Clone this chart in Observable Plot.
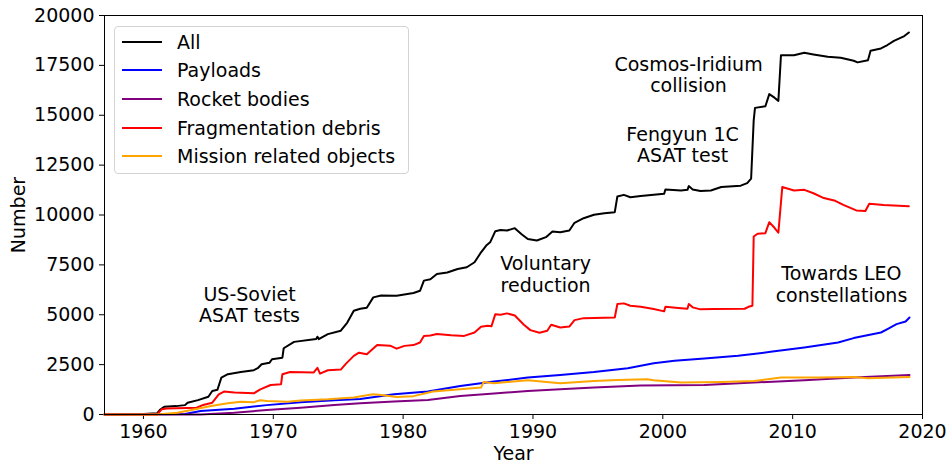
<!DOCTYPE html>
<html>
<head>
<meta charset="utf-8">
<script src="https://cdn.jsdelivr.net/npm/d3@7"></script>
<script src="https://cdn.jsdelivr.net/npm/@observablehq/plot@0.6"></script>
<style>
body { margin: 0; background: #fff; }
#chart { position: relative; width: 948px; height: 464px; font-family: "DejaVu Sans", sans-serif; }
.legend { position: absolute; left: 114px; top: 26px; width: 295px; height: 148px; border: 1px solid #d4d4d4; border-radius: 4px; background: rgba(255,255,255,0.8); box-sizing: border-box; }
.sw { position: absolute; left: 7px; width: 40px; height: 2px; }
.lt { position: absolute; left: 62px; height: 24px; line-height: 24px; font-size: 19px; color: #000; white-space: nowrap; }
</style>
</head>
<body>
<div id="chart"></div>
<script>
const xTicks = [1960, 1970, 1980, 1990, 2000, 2010, 2020];
const yTicks = [0, 2500, 5000, 7500, 10000, 12500, 15000, 17500, 20000];
const seriesNames = ["All", "Payloads", "Rocket bodies", "Fragmentation debris", "Mission related objects"];
const seriesColors = ["black", "blue", "purple", "red", "orange"];

const allYear = [1957.0, 1960.0, 1961.05, 1961.3, 1961.6, 1962.5, 1963.2, 1963.4, 1964.2, 1965.0, 1965.3, 1965.7, 1966.0, 1966.5, 1967.5, 1968.5, 1968.8, 1969.1, 1969.7, 1969.9, 1970.7, 1970.8, 1971.6, 1973.3, 1973.4, 1973.5, 1974.2, 1975.2, 1975.7, 1976.2, 1976.7, 1977.2, 1977.7, 1978.3, 1979.5, 1980.8, 1981.3, 1981.6, 1982.1, 1982.6, 1983.4, 1984.2, 1984.9, 1985.5, 1986.0, 1986.4, 1986.7, 1987.1, 1987.5, 1988.0, 1988.6, 1989.1, 1989.6, 1990.3, 1991.0, 1991.5, 1992.1, 1992.8, 1993.2, 1993.9, 1994.7, 1995.5, 1996.3, 1996.5, 1997.0, 1997.5, 1998.3, 2000.1, 2000.2, 2001.4, 2001.9, 2002.0, 2002.3, 2002.9, 2003.7, 2004.5, 2006.0, 2006.5, 2006.8, 2007.0, 2007.1, 2007.9, 2008.2, 2008.6, 2008.9, 2009.1, 2010.1, 2010.9, 2011.6, 2012.7, 2013.7, 2014.7, 2015.0, 2015.8, 2016.0, 2016.8, 2017.3, 2017.8, 2018.6, 2018.95];
const allCount = [0, 30, 60, 250, 390, 420, 470, 590, 720, 890, 1180, 1240, 1850, 2020, 2130, 2220, 2320, 2520, 2590, 2770, 2850, 3320, 3640, 3780, 3900, 3780, 4030, 4200, 4610, 5200, 5300, 5350, 5870, 5960, 5950, 6090, 6200, 6710, 6780, 7040, 7120, 7290, 7380, 7630, 8130, 8470, 8630, 9190, 9250, 9220, 9340, 9050, 8800, 8720, 8890, 9170, 9140, 9220, 9610, 9840, 10010, 10090, 10140, 10930, 11010, 10890, 10950, 11060, 11280, 11230, 11260, 11450, 11280, 11200, 11230, 11400, 11470, 11600, 11820, 14750, 15370, 15450, 16060, 15880, 15720, 18010, 18010, 18130, 18050, 17930, 17880, 17730, 17650, 17760, 18230, 18350, 18520, 18730, 18970, 19150];

const payloadYear = [1957.0, 1963.2, 1964.4, 1967.0, 1969.5, 1972.1, 1974.7, 1976.7, 1979.3, 1981.9, 1984.4, 1987.0, 1989.6, 1992.1, 1994.7, 1997.3, 1998.3, 1999.3, 2000.9, 2003.2, 2005.8, 2008.3, 2010.9, 2013.5, 2014.7, 2016.8, 2017.3, 2018.0, 2018.7, 2019.0];
const payloadCount = [0, 20, 175, 290, 470, 620, 720, 780, 1010, 1150, 1430, 1650, 1850, 1980, 2130, 2320, 2440, 2570, 2690, 2810, 2940, 3140, 3360, 3610, 3830, 4110, 4280, 4530, 4660, 4860];

const rocketYear = [1957.0, 1964.4, 1967.0, 1969.5, 1972.1, 1974.7, 1976.7, 1979.3, 1981.9, 1984.4, 1987.0, 1989.6, 1992.1, 1994.7, 1998.3, 2003.2, 2007.0, 2010.9, 2014.7, 2019.0];
const rocketCount = [0, 0, 90, 225, 340, 480, 560, 650, 730, 930, 1050, 1180, 1260, 1350, 1450, 1480, 1600, 1720, 1850, 1980];

const fragYear = [1957.0, 1961.05, 1961.4, 1961.8, 1964.1, 1964.6, 1965.3, 1965.8, 1966.2, 1967.0, 1968.5, 1969.0, 1969.8, 1970.6, 1970.7, 1971.3, 1973.1, 1973.4, 1973.6, 1974.2, 1975.2, 1975.6, 1976.2, 1976.6, 1977.2, 1978.0, 1979.0, 1979.5, 1980.1, 1980.8, 1981.3, 1981.6, 1982.1, 1982.6, 1983.7, 1984.7, 1985.5, 1986.0, 1986.5, 1986.8, 1987.1, 1987.5, 1988.0, 1988.6, 1989.3, 1989.8, 1990.5, 1991.1, 1991.4, 1992.1, 1992.8, 1993.2, 1993.9, 1996.3, 1996.5, 1997.0, 1997.5, 1998.3, 1999.3, 2000.1, 2000.2, 2001.4, 2001.9, 2002.0, 2002.3, 2002.9, 2003.9, 2006.3, 2006.6, 2006.9, 2007.0, 2007.3, 2007.9, 2008.2, 2008.6, 2008.9, 2009.2, 2010.1, 2010.9, 2011.6, 2012.4, 2013.2, 2013.9, 2014.9, 2015.6, 2015.9, 2017.0, 2018.95];
const fragCount = [0, 0, 260, 300, 340, 480, 590, 1010, 1150, 1100, 1060, 1260, 1480, 1520, 2020, 2130, 2100, 2340, 2050, 2220, 2250, 2550, 2940, 3100, 3020, 3480, 3450, 3300, 3440, 3480, 3610, 3940, 3960, 4030, 3970, 3940, 4110, 4400, 4450, 4420, 5030, 5000, 5070, 4960, 4500, 4230, 4100, 4200, 4500, 4360, 4410, 4730, 4830, 4860, 5540, 5570, 5450, 5400, 5290, 5170, 5400, 5330, 5300, 5540, 5370, 5270, 5290, 5300, 5400, 5450, 8920, 9060, 9090, 9640, 9360, 9110, 11400, 11230, 11260, 11090, 10850, 10730, 10510, 10230, 10200, 10560, 10500, 10440];

const missionYear = [1957.0, 1961.05, 1962.6, 1963.6, 1965.2, 1966.5, 1967.5, 1968.5, 1969.0, 1969.5, 1971.1, 1972.1, 1974.2, 1976.2, 1977.2, 1977.7, 1978.3, 1979.5, 1980.8, 1982.3, 1984.4, 1986.0, 1986.2, 1987.0, 1989.6, 1992.1, 1994.7, 1996.5, 1998.8, 1999.3, 2001.4, 2004.5, 2007.0, 2009.1, 2012.1, 2014.7, 2015.8, 2019.0];
const missionCount = [0, 0, 90, 210, 430, 560, 640, 620, 710, 680, 640, 700, 760, 850, 960, 1010, 980, 880, 920, 1150, 1260, 1350, 1630, 1570, 1720, 1570, 1680, 1730, 1770, 1720, 1600, 1630, 1680, 1850, 1850, 1880, 1820, 1880];

const annLabel = ["US-Soviet\nASAT tests", "Voluntary\nreduction", "Cosmos-Iridium\ncollision", "Fengyun 1C\nASAT test", "Towards LEO\nconstellations"];
const annYear = [1968.17, 1990.97, 2001.98, 2001.52, 2013.76];
const annValue = [5504, 7028, 17032, 13524, 6551];

const toRows = (years, counts) => years.map((y, i) => ({year: y, value: counts[i]}));
const seriesData = [
  toRows(allYear, allCount),
  toRows(payloadYear, payloadCount),
  toRows(rocketYear, rocketCount),
  toRows(fragYear, fragCount),
  toRows(missionYear, missionCount)
];
const annotations = annLabel.map((l, i) => ({label: l, year: annYear[i], value: annValue[i]}));

const fmt = d3.format("d");
const plot = Plot.plot({
  width: 948,
  height: 464,
  marginLeft: 104,
  marginRight: 26,
  marginTop: 15,
  marginBottom: 50,
  style: {fontFamily: '"DejaVu Sans", sans-serif', fontSize: "19px", color: "black", background: "white"},
  x: {domain: [1957, 2020]},
  y: {domain: [0, 20000]},
  marks: [
    Plot.axisX({ticks: xTicks, tickFormat: fmt, tickSize: 5, tickPadding: 5, label: null, fontSize: 19}),
    Plot.axisY({ticks: yTicks, tickFormat: fmt, tickSize: 5, tickPadding: 5, label: null, fontSize: 19}),
    ...seriesData.map((d, i) => Plot.line(d, {x: "year", y: "value", stroke: seriesColors[i], strokeWidth: 2})),
    Plot.frame({stroke: "black", strokeWidth: 1}),
    Plot.text(annotations, {x: "year", y: "value", text: "label", fontSize: 19, lineHeight: 1.14, fill: "black"}),
    Plot.text(["Year"], {frameAnchor: "bottom", dy: 39, fontSize: 19, fill: "black", textAnchor: "middle", lineAnchor: "middle"}),
    Plot.text(["Number"], {frameAnchor: "left", dx: -86, rotate: -90, fontSize: 19, fill: "black", textAnchor: "middle", lineAnchor: "middle"})
  ]
});
const chart = document.getElementById("chart");
chart.appendChild(plot);

const legend = document.createElement("div");
legend.className = "legend";
seriesNames.forEach((name, i) => {
  const cy = 14.7 + i * 28.6;
  const sw = document.createElement("div");
  sw.className = "sw";
  sw.style.top = (cy - 1) + "px";
  sw.style.background = seriesColors[i];
  legend.appendChild(sw);
  const t = document.createElement("div");
  t.className = "lt";
  t.style.top = (cy - 12) + "px";
  t.textContent = name;
  legend.appendChild(t);
});
chart.appendChild(legend);
</script>
</body>
</html>
